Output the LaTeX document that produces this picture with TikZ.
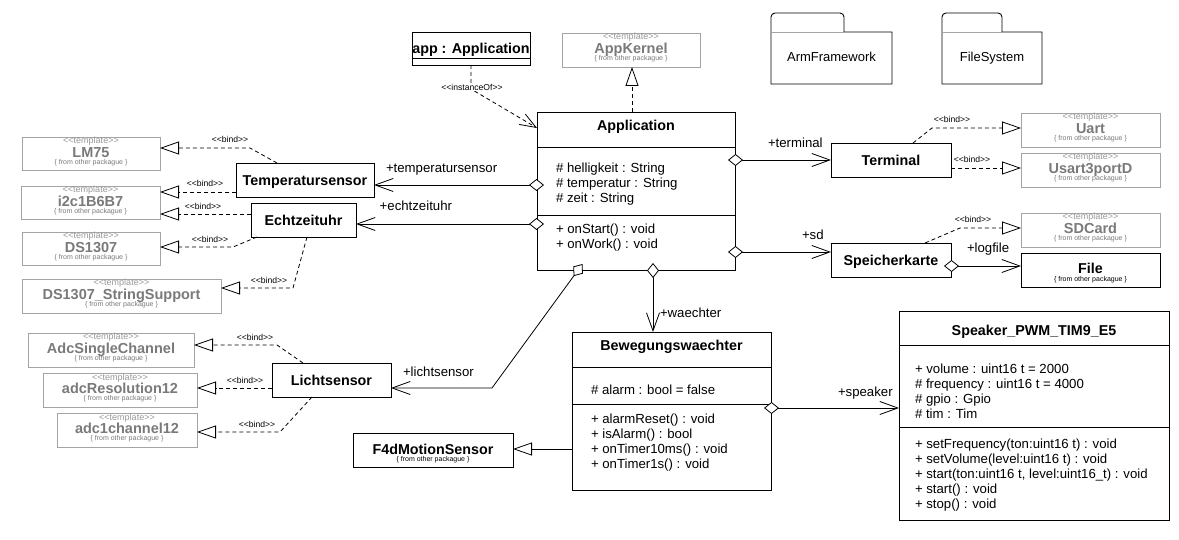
\documentclass[tikz,border=0pt]{standalone}
\usepackage{fontspec}
\setmainfont{Liberation Sans}
\usetikzlibrary{arrows.meta,calc}
\definecolor{tgray}{HTML}{7A7A7A}
\definecolor{sgray}{HTML}{999999}
\definecolor{lgray}{HTML}{A4A4A4}
\tikzset{
 every node/.style={inner sep=0pt, outer sep=0pt},
 cbox/.style={draw=black, line width=0.9pt, fill=white},
 tbox/.style={draw=lgray, line width=0.9pt, fill=white},
 ster/.style={font=\fontsize{9}{10}\selectfont, text=sgray},
 tname/.style={font=\fontsize{14.5}{15}\selectfont\bfseries, text=tgray},
 cname/.style={font=\fontsize{14.3}{15}\selectfont\bfseries},
 cnbox/.style={cbox, cname, text height=10.3pt, text depth=0pt},
 frm/.style={font=\fontsize{7}{8}\selectfont, text=tgray},
 xfrm/.style={font=\fontsize{7}{8}\selectfont},
 txt/.style={font=\fontsize{13.2}{15}\selectfont, anchor=base west},
 pkgtxt/.style={font=\fontsize{13}{15}\selectfont, anchor=base},
 bindlbl/.style={font=\fontsize{8.6}{10}\selectfont},
 conn/.style={line width=0.8pt},
 bind/.style={conn, dash pattern=on 4pt off 3pt, -{Triangle[length=19pt,width=13pt,fill=white]}},
 assoc/.style={conn, {Diamond[length=15pt,width=12pt,fill=white]}-{Straight Barb[length=18pt,width=13pt]}},
 gen/.style={conn, -{Triangle[length=19pt,width=13pt,fill=white]}},
}
\newcommand\tmplbox[6]{%
  \node[tbox, minimum width=#4, minimum height=#5] (#1) at (#2,#3) {};
  \node[ster, anchor=base] (#1-s) at ($(#1.north)+(0,7)$) {<\kern0pt<template>\kern0pt>};
  \node[tname, anchor=base] (#1-n) at ($(#1.north)+(0,20.5)$) {#6};
  \node[frm, anchor=base] (#1-f) at ($(#1.north)+(0,27.5)$) {\{ from other packague \}};
}
\newcommand\extbox[6]{%
  \node[cbox, minimum width=#4, minimum height=#5] (#1) at (#2,#3) {};
  \node[cname, anchor=base] (#1-n) at ($(#1.north)+(0,21)$) {#6};
  \node[xfrm, anchor=base] (#1-f) at ($(#1.north)+(0,28.5)$) {\{ from other packague \}};
}
\newcommand\bindtxt{<\kern0pt<bind>\kern0pt>}
\begin{document}
\begin{tikzpicture}[x=1pt,y=-1pt]
\useasboundingbox (0,0) rectangle (1179,540);
\fill[white] (0,0) rectangle (1179,540);

% ---------- packages ----------
\draw[line width=0.9pt] (771,84) -- (771,17) to[out=90,in=180] (775,13) -- (840,13) to[out=0,in=90] (844,17) -- (844,32) -- (892,32) -- (892,84) -- cycle;
\draw[lgray, line width=0.8pt] (771,32) -- (844,32);
\node[pkgtxt] (pkgArm) at (831.5,62) {ArmFramework};
\draw[line width=0.9pt] (942,84) -- (942,17) to[out=90,in=180] (946,13) -- (998,13) to[out=0,in=90] (1002,17) -- (1002,32) -- (1042,32) -- (1042,84) -- cycle;
\draw[lgray, line width=0.8pt] (942,32) -- (1002,32);
\node[pkgtxt] (pkgFS) at (992,62) {FileSystem};

% ---------- template boxes ----------
\tmplbox{LM}{91}{153.5}{138}{33}{LM75}
\tmplbox{IIC}{90.5}{202.5}{139}{33}{i2c1B6B7}
\tmplbox{DS}{91}{248.5}{138}{33}{DS1307}
\tmplbox{DSS}{121.5}{296}{199}{34}{DS1307\_StringSupport}
\tmplbox{ASC}{111}{350}{166}{34}{AdcSingleChannel}
\tmplbox{AR}{120}{390}{154}{34}{adcResolution12}
\tmplbox{AC}{127}{430}{140}{34}{adc1channel12}
\tmplbox{AK}{631}{50}{138}{34}{AppKernel}
\tmplbox{Uart}{1090.5}{130}{139}{34}{Uart}
\tmplbox{Usart}{1090.5}{170}{139}{34}{Usart3portD}
\tmplbox{SD}{1090.5}{230}{139}{34}{SDCard}
\extbox{File}{1090.5}{270}{139}{34}{File}
\extbox{F4d}{433}{450}{160}{34}{F4dMotionSensor}

% ---------- simple classes ----------
\node[cnbox, minimum width=118, minimum height=33] (app) at (471,48.5) {\underline{app : Application}};
\node[cnbox, minimum width=138, minimum height=34] (Temp) at (305,180) {Temperatursensor};
\node[cnbox, minimum width=105, minimum height=34] (Echt) at (303.5,220) {Echtzeituhr};
\node[cnbox, minimum width=119, minimum height=34] (Licht) at (331.5,380) {Lichtsensor};
\node[cnbox, minimum width=120, minimum height=34] (Term) at (891,160) {Terminal};
\node[cnbox, minimum width=120, minimum height=34] (Speich) at (891,260) {Speicherkarte};

% ---------- Application ----------
\node[cbox, minimum width=198, minimum height=158] (App) at (636,191) {};
\node[cname, anchor=base] (App-t) at (636,131) {Application};
\draw[line width=0.9pt] (App.west |- 0,147) -- (App.east |- 0,147);
\draw[line width=0.9pt] (App.west |- 0,215) -- (App.east |- 0,215);
\node[txt] (App-a1) at (556,172.5) {\# helligkeit : String};
\node[txt] (App-a2) at (556,187.5) {\# temperatur : String};
\node[txt] (App-a3) at (556,202.5) {\# zeit : String};
\node[txt] (App-m1) at (556,234) {+ onStart() : void};
\node[txt] (App-m2) at (556,249) {+ onWork() : void};

% ---------- Bewegungswaechter ----------
\node[cbox, minimum width=199, minimum height=158] (Bew) at (671.5,411) {};
\node[cname, anchor=base] (Bew-t) at (671.5,351) {Bewegungswaechter};
\draw[line width=0.9pt] (Bew.west |- 0,367) -- (Bew.east |- 0,367);
\draw[line width=0.9pt] (Bew.west |- 0,404) -- (Bew.east |- 0,404);
\node[txt] (Bew-a1) at (591,394) {\# alarm : bool = false};
\node[txt] (Bew-m1) at (591,423.5) {+ alarmReset() : void};
\node[txt] (Bew-m2) at (591,438.5) {+ isAlarm() : bool};
\node[txt] (Bew-m3) at (591,453.5) {+ onTimer10ms() : void};
\node[txt] (Bew-m4) at (591,468.5) {+ onTimer1s() : void};

% ---------- Speaker ----------
\node[cbox, minimum width=270, minimum height=209] (Spk) at (1034,415.5) {};
\node[cname, anchor=base] (Spk-t) at (1034,335) {Speaker\_PWM\_TIM9\_E5};
\draw[line width=0.9pt] (Spk.west |- 0,345) -- (Spk.east |- 0,345);
\draw[line width=0.9pt] (Spk.west |- 0,427) -- (Spk.east |- 0,427);
\node[txt] (Spk-a1) at (915,373.5) {+ volume : uint16 t = 2000};
\node[txt] (Spk-a2) at (915,388.5) {\# frequency : uint16 t = 4000};
\node[txt] (Spk-a3) at (915,403.5) {\# gpio : Gpio};
\node[txt] (Spk-a4) at (915,418.5) {\# tim : Tim};
\node[txt] (Spk-m1) at (915,448) {+ setFrequency(ton:uint16 t) : void};
\node[txt] (Spk-m2) at (915,463) {+ setVolume(level:uint16 t) : void};
\node[txt] (Spk-m3) at (915,478) {+ start(ton:uint16 t, level:uint16\_t) : void};
\node[txt] (Spk-m4) at (915,493) {+ start() : void};
\node[txt] (Spk-m5) at (915,508) {+ stop() : void};

% ---------- associations ----------
\draw[assoc] ($(App.west |- 0,185)+(7,0)$) -- (Temp.east |- 0,185);
\draw[assoc] ($(App.west |- 0,224)+(7,0)$) -- (Echt.east |- 0,224);
\draw[assoc] ($(App.east |- 0,160)+(-7,0)$) -- (Term.west |- 0,160);
\draw[assoc] ($(App.east |- 0,252)+(-7,0)$) -- (Speich.west |- 0,252);
\draw[assoc] ($(Speich.east |- 0,266)+(-7,0)$) -- (File.west |- 0,266);
\draw[assoc] ($(App.south -| 653,0)+(0,-7)$) -- (Bew.north -| 653,0);
\draw[assoc] ($(App.south -| 582.5,0)+(0,-6)$) -- (492,388) -- (Licht.east |- 0,388);
\draw[assoc] ($(Bew.east |- 0,408)+(-7,0)$) -- (Spk.west |- 0,408);
\draw[gen] (Bew.west |- 0,449) -- (F4d.east |- 0,449);

\node[txt] (l-temp) at (386,173) {+temperatursensor};
\node[txt, anchor=base east] (l-echt) at (452,211) {+echtzeituhr};
\node[txt] (l-term) at (768,148) {+terminal};
\node[txt] (l-sd) at (802,240) {+sd};
\node[txt] (l-log) at (967,253) {+logfile};
\node[txt] (l-wae) at (660,318) {+waechter};
\node[txt] (l-licht) at (403,376.5) {+lichtsensor};
\node[txt] (l-spk) at (838,396.5) {+speaker};

% ---------- realization / bind ----------
\draw[bind] (App.north -| 632,0) -- (AK.south -| 632,0);
\draw[bind] (Temp.north -| 277,0) -- (250,148) -- (LM.east |- 0,148);
\draw[bind] (Temp.west |- 0,192) -- (IIC.east |- 0,192);
\draw[bind] (Echt.west |- 0,214) -- (IIC.east |- 0,214);
\draw[bind] (Echt.south -| 257,0) -- (233,247) -- (DS.east |- 0,247);
\draw[bind] (Echt.south -| 307,0) -- (293,288) -- (DSS.east |- 0,288);
\draw[bind] (Licht.north -| 303,0) -- (277,345) -- (ASC.east |- 0,345);
\draw[bind] (Licht.west |- 0,388) -- (AR.east |- 0,388);
\draw[bind] (Licht.south -| 312,0) -- (280,432) -- (AC.east |- 0,432);
\draw[bind] (Term.north -| 913,0) -- (932,128) -- (Uart.west |- 0,128);
\draw[bind] (Term.east |- 0,168) -- (Usart.west |- 0,168);
\draw[bind] (Speich.north -| 925,0) -- (960,228) -- (SD.west |- 0,228);

\node[bindlbl] (b1) at (230,139) {\bindtxt};
\node[bindlbl] (b2) at (205,183) {\bindtxt};
\node[bindlbl] (b3) at (203,206) {\bindtxt};
\node[bindlbl] (b4) at (210,239) {\bindtxt};
\node[bindlbl] (b5) at (269,280) {\bindtxt};
\node[bindlbl] (b6) at (255,337) {\bindtxt};
\node[bindlbl] (b7) at (245,380) {\bindtxt};
\node[bindlbl] (b8) at (257,424) {\bindtxt};
\node[bindlbl] (b9) at (952,119) {\bindtxt};
\node[bindlbl] (b10) at (972,159) {\bindtxt};
\node[bindlbl] (b11) at (973,219) {\bindtxt};

% ---------- instanceOf ----------
\draw[conn, dash pattern=on 4pt off 3pt, -{Straight Barb[length=16pt,width=12pt]}] (app.south) -- (app.south |- 0,89) -- (App.north west |- 0,128);
\node[bindlbl, fill=white, inner sep=1pt] (io) at (472,87) {<\kern0pt<instanceOf>\kern0pt>};
\end{tikzpicture}
\end{document}
